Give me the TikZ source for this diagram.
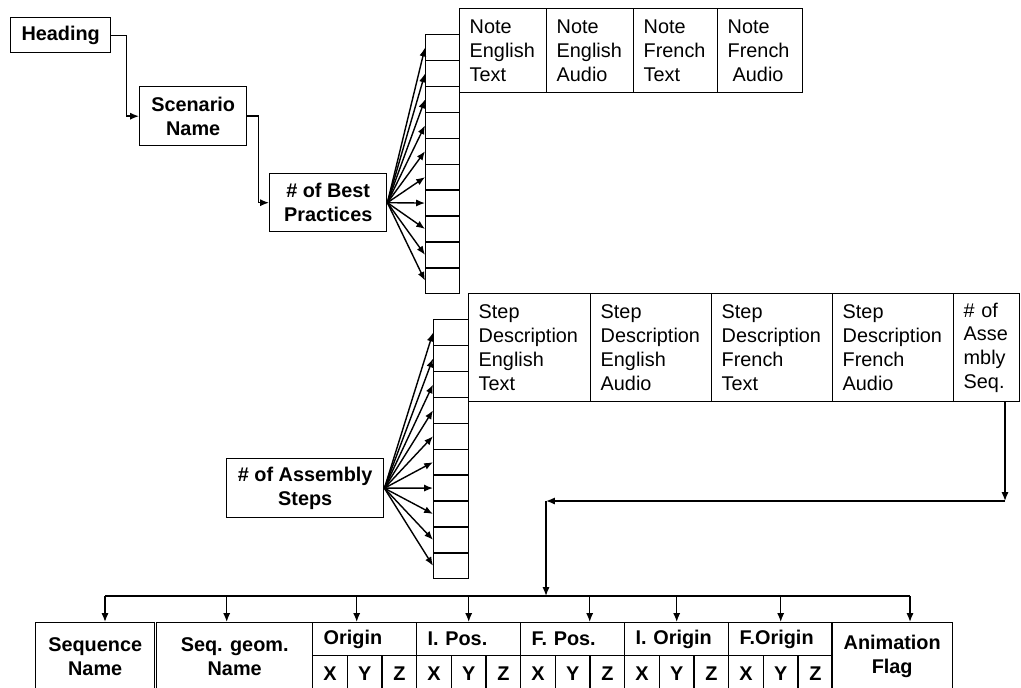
\documentclass[tikz,border=0pt]{standalone}
\usepackage{fontspec}
\setmainfont{Liberation Sans}
\usetikzlibrary{arrows.meta}

\begin{document}
\begin{tikzpicture}[x=0.02cm, y=-0.02cm, line width=0.8pt,
  every node/.style = {inner sep=0pt, anchor=north west,
    font=\fontsize{11.3}{13.5}\selectfont},
  lbl/.style = {draw, align=center, font=\bfseries\fontsize{11.3}{13.5}\selectfont},
  txt/.style = {draw, align=left, inner xsep=0.2cm},
  cell/.style = {draw, minimum height=0.518cm},
  arr/.style = {-{Latex[length=5pt,width=4pt]}}]
  \useasboundingbox (0,0) rectangle (1021,687);

  % chain of headings
  \node[lbl, minimum width=2cm, minimum height=0.7cm] (heading) at (10,17) {Heading};
  \node[lbl, minimum width=2.14cm, minimum height=1.18cm] (scenario) at (139,86) {Scenario\\Name};
  \node[lbl, minimum width=2.34cm, minimum height=1.16cm] (best) at (269,173) {\# of Best\\Practices};
  \draw[arr] (heading.east) -- ++(15,0) |- (scenario.west);
  \draw[arr] (scenario.east) -- ++(11,0) |- (best.west);

  % best practices array
  \foreach \i in {0,...,9}
    \node[cell, minimum width=0.68cm] (top\i) at (425,34+25.9*\i) {};
  \foreach \i in {0,...,9}
    \draw[arr] (best.east) -- (top\i.west);
  \foreach \x/\w/\tw/\lab [count=\n] in {459/1.74/1.34cm/{Note\\English\\Text},
      546/1.74/1.34cm/{Note\\English\\Audio}, 633/1.68/1.28cm/{Note\\French\\Text},
      717/1.70/1.30cm/{Note\\French\\\hspace*{0.1cm}Audio}}
    \node[txt, text width=\tw, minimum height=1.68cm] (note\n) at (\x,8) {\lab};

  % assembly steps array
  \node[lbl, minimum width=3.14cm, minimum height=1.18cm] (asmsteps) at (226,458) {\# of Assembly\\Steps};
  \foreach \i in {0,...,9}
    \node[cell, minimum width=0.7cm] (mid\i) at (433,319+25.9*\i) {};
  \foreach \i in {0,...,9}
    \draw[arr] (asmsteps.east) -- (mid\i.west);
  \foreach \x/\tw/\lab [count=\n] in {468/2.04cm/{Step\\Description\\English\\Text},
      590/2.02cm/{Step\\Description\\English\\Audio}, 711/2.02cm/{Step\\Description\\French\\Text},
      832/2.02cm/{Step\\Description\\French\\Audio}}
    \node[txt, text width=\tw, minimum height=2.16cm] (desc\n) at (\x,293) {\lab};
  \node[txt, text width=0.92cm, minimum height=2.16cm] (seqs) at (953,293) {\# of\\Asse\\mbly\\Seq.};

  % sequence table
  \node[lbl, minimum width=2.38cm, minimum height=1.36cm] (seqname) at (35,622) {Sequence\\Name};
  \node[lbl, minimum width=3.12cm, minimum height=1.36cm] (geom) at (156,622) {Seq. geom.\\Name};
  \foreach \lab [count=\n] in {Origin, I. Pos., F. Pos., I. Origin, F.Origin} {
    \node[lbl, align=left, text width=1.64cm, inner xsep=0.22cm, minimum height=0.66cm]
      (hdr\n) at (312+104*\n-104,622) {\lab};
    \foreach \a [count=\m] in {X,Y,Z}
      \node[lbl, minimum width=0.6933cm, minimum height=0.7cm]
        (ax\n\m) at (312+104*\n-104+34.67*\m-34.67,655) {\a};
  }
  \node[lbl, minimum width=2.42cm, minimum height=1.36cm] (anim) at (831,622) {Animation\\Flag};

  % links down to the table
  \coordinate (turnR) at (1005,501);
  \coordinate (turnL) at (546,501);
  \coordinate (busL) at (105,596);
  \coordinate (busR) at (910,596);
  \draw[arr] (seqs.south -| turnR) -- (turnR);
  \draw[arr] (turnR) -- (turnL);
  \draw[arr] (turnL) -- (turnL |- busL);
  \draw (busL) -- (busR);
  \draw[arr] (busL) -- (busL |- seqname.north);
  \draw[arr] ([xshift=-0.16cm]geom.north |- busL) -- ([xshift=-0.16cm]geom.north);
  \draw[arr] ([xshift=-0.16cm]hdr1.north |- busL) -- ([xshift=-0.16cm]hdr1.north);
  \draw[arr] (hdr2.north |- busL) -- (hdr2.north);
  \draw[arr] ([xshift=0.34cm]hdr3.north |- busL) -- ([xshift=0.34cm]hdr3.north);
  \draw[arr] (hdr4.north |- busL) -- (hdr4.north);
  \draw[arr] (hdr5.north |- busL) -- (hdr5.north);
  \draw[arr] (busR) -- (busR |- anim.north);
\end{tikzpicture}
\end{document}
